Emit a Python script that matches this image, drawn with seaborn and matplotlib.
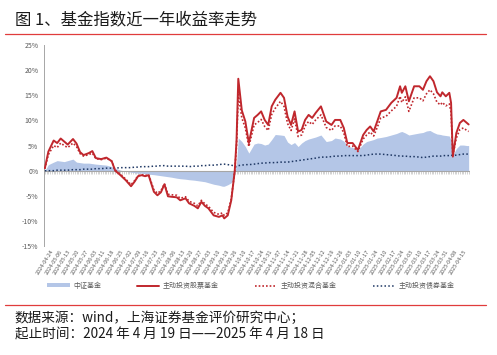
import numpy as np
import pandas as pd
import seaborn as sns
import matplotlib.pyplot as plt
from matplotlib.lines import Line2D
from matplotlib.patches import Patch

# trading-day index (0 = 2024-04-19, 241 = 2025-04-18)
days = [0, 2, 5, 7, 9, 11, 13, 16, 18, 20, 22, 25, 27, 29, 32, 35, 38, 40, 43, 46,
        49, 51, 53, 55, 57, 59, 62, 64, 66, 68, 70, 72, 75, 77, 80, 82, 85, 87, 89, 91,
        93, 96, 99, 101, 102, 104, 106, 108, 109, 110, 112, 114, 116, 119, 121, 123, 125, 127, 129, 131,
        134, 136, 138, 140, 142, 144, 146, 148, 150, 152, 154, 157, 160, 163, 165, 168, 170, 172, 175, 178,
        181, 183, 185, 187, 189, 191, 194, 197, 200, 202, 203, 205, 207, 210, 213, 215, 217, 219, 221, 223,
        225, 226, 228, 230, 231, 232, 234, 236, 238, 240, 241]

index_fund = [0.0, 1.2, 1.7, 2.0, 1.9, 1.8, 2.0, 2.3, 1.7, 1.6, 1.5, 1.5, 1.4, 1.3, 1.2, 1.1, 0.8, 0.5, 0.1, -0.1,
              -0.3, -0.4, -0.5, -0.5, -0.6, -0.7, -0.8, -0.9, -1.0, -1.1, -1.2, -1.3, -1.5, -1.6, -1.7, -1.8, -1.9, -2.0, -2.1, -2.2,
              -2.4, -2.7, -2.9, -3.1, -3.1, -2.8, -2.4, -0.5, 1.5, 6.5, 5.8, 4.8, 3.5, 5.3, 5.5, 5.4, 5.1, 5.3, 6.2, 7.2,
              7.1, 7.0, 5.7, 5.2, 5.6, 4.8, 5.5, 6.0, 6.3, 6.5, 6.7, 7.1, 5.8, 6.0, 6.5, 6.3, 5.9, 4.9, 4.6, 4.1,
              5.3, 5.8, 6.0, 6.2, 6.5, 6.6, 6.8, 7.1, 7.4, 7.7, 7.8, 7.5, 7.1, 7.3, 7.5, 7.6, 7.9, 8.0, 7.6, 7.3,
              7.2, 7.1, 7.0, 6.9, 6.0, 3.1, 4.4, 5.1, 5.1, 5.0, 5.0]

stock_fund = [0.5, 3.8, 6.0, 5.5, 6.4, 5.8, 5.2, 6.3, 5.4, 3.7, 3.1, 3.5, 3.9, 2.5, 2.3, 2.6, 1.9, 0.0, -0.9, -1.9,
              -3.1, -2.2, -1.1, -0.9, -1.1, -0.9, -4.2, -4.9, -4.3, -2.7, -5.1, -5.2, -5.3, -5.9, -5.5, -6.5, -7.0, -7.5, -6.2, -7.0,
              -7.5, -8.9, -9.2, -8.9, -9.5, -8.9, -5.9, 0.0, 6.0, 18.3, 12.0, 9.8, 5.5, 10.5, 11.1, 11.8, 10.1, 9.1, 12.8, 14.1,
              15.5, 14.5, 10.8, 9.1, 11.8, 7.8, 8.1, 10.1, 11.1, 10.5, 11.5, 12.8, 9.8, 9.1, 10.1, 10.1, 8.5, 5.5, 5.5, 4.1,
              7.1, 8.1, 8.8, 7.8, 9.8, 11.8, 12.1, 13.5, 14.5, 16.8, 15.5, 16.8, 13.8, 16.8, 16.8, 16.1, 17.8, 18.8, 17.8, 15.6,
              14.8, 15.6, 14.8, 15.5, 13.5, 2.8, 7.5, 9.5, 10.1, 9.5, 9.2]

mixed_fund = [0.4, 3.2, 5.0, 4.6, 5.5, 5.0, 4.6, 5.5, 4.8, 3.4, 2.9, 3.2, 3.5, 2.4, 2.2, 2.5, 1.9, 0.1, -0.7, -1.7,
              -2.8, -2.0, -1.0, -0.8, -1.0, -0.8, -3.8, -4.5, -4.0, -2.6, -4.7, -4.8, -4.9, -5.5, -5.2, -6.1, -6.5, -7.0, -5.9, -6.6,
              -7.1, -8.3, -8.7, -8.4, -8.9, -8.4, -5.6, 0.0, 5.0, 15.2, 10.5, 8.5, 4.8, 9.1, 9.6, 10.2, 8.8, 8.0, 11.2, 12.4,
              13.8, 12.8, 9.4, 8.0, 10.3, 6.8, 7.1, 8.9, 9.8, 9.2, 10.1, 11.1, 8.6, 8.0, 8.9, 8.9, 7.5, 4.8, 4.9, 3.8,
              6.3, 7.1, 7.7, 6.9, 8.6, 10.5, 10.8, 11.9, 12.8, 14.8, 13.6, 14.7, 11.8, 14.5, 14.5, 13.9, 15.3, 16.1, 15.3, 13.6,
              13.1, 13.6, 12.9, 13.3, 11.6, 3.1, 6.5, 8.2, 8.5, 8.0, 7.8]

bond_fund = [0.0, 0.0, 0.0, 0.1, 0.1, 0.1, 0.1, 0.2, 0.2, 0.2, 0.3, 0.3, 0.3, 0.4, 0.4, 0.5, 0.5, 0.5, 0.6, 0.6,
             0.6, 0.7, 0.7, 0.8, 0.8, 0.8, 0.9, 0.9, 1.0, 1.0, 0.9, 0.9, 0.9, 0.9, 0.9, 0.8, 0.9, 0.9, 1.0, 1.0,
             1.1, 1.1, 1.2, 1.3, 1.3, 1.2, 1.1, 0.9, 0.8, 1.0, 1.1, 1.2, 1.2, 1.3, 1.4, 1.5, 1.5, 1.6, 1.6, 1.6,
             1.7, 1.7, 1.7, 1.8, 1.9, 2.0, 2.1, 2.2, 2.3, 2.4, 2.5, 2.7, 2.7, 2.8, 2.9, 2.9, 3.0, 3.0, 3.0, 3.0,
             3.0, 3.1, 3.2, 3.3, 3.3, 3.3, 3.2, 3.1, 3.0, 2.9, 2.9, 2.9, 2.8, 2.8, 2.7, 2.6, 2.7, 2.8, 2.9, 2.9,
             2.9, 3.0, 3.0, 3.0, 3.1, 3.0, 3.1, 3.2, 3.3, 3.3, 3.3]

tick_labels = ['2024-04-24', '2024-05-06', '2024-05-13', '2024-05-20', '2024-05-27', '2024-06-03',
               '2024-06-11', '2024-06-18', '2024-06-25', '2024-07-02', '2024-07-09', '2024-07-16',
               '2024-07-23', '2024-07-30', '2024-08-06', '2024-08-13', '2024-08-20', '2024-08-27',
               '2024-09-03', '2024-09-10', '2024-09-19', '2024-09-26', '2024-10-10', '2024-10-17',
               '2024-10-24', '2024-10-31', '2024-11-07', '2024-11-14', '2024-11-21', '2024-11-28',
               '2024-12-05', '2024-12-12', '2024-12-19', '2024-12-26', '2025-01-03', '2025-01-10',
               '2025-01-17', '2025-01-24', '2025-02-10', '2025-02-17', '2025-02-24', '2025-03-03',
               '2025-03-10', '2025-03-17', '2025-03-24', '2025-03-31', '2025-04-08', '2025-04-15']

names = ['中证基金', '主动投资股票基金', '主动投资混合基金', '主动投资债券基金']

df = pd.DataFrame({'day': days, 'index': index_fund, 'stock': stock_fund,
                   'mixed': mixed_fund, 'bond': bond_fund})

sns.set_style('white')
plt.rcParams['font.family'] = ['Noto Sans CJK SC', 'DejaVu Sans']
plt.rcParams['axes.unicode_minus'] = False

fig = plt.figure(figsize=(4.97, 3.55), dpi=100)
ax = fig.add_axes([0.0885, 0.307, 0.858, 0.566])

area_c = '#b4c6e7'
red = '#c0272d'
navy = '#1f3864'

ax.fill_between(df['day'], 0, df['index'], color=area_c, lw=0, zorder=1)
sns.lineplot(data=df, x='day', y='stock', color=red, lw=1.4, ax=ax, zorder=4)
sns.lineplot(data=df, x='day', y='mixed', color=red, lw=1.2, ls=(0, (1, 1.2)), ax=ax, zorder=3)
sns.lineplot(data=df, x='day', y='bond', color=navy, lw=1.1, ls=(0, (1, 1.5)), ax=ax, zorder=3)

ax.set_xlim(-0.5, 242)
ax.set_ylim(-15, 25)
ax.set_xlabel('')
ax.set_ylabel('')

yt = np.arange(-15, 26, 5)
ax.set_yticks(yt)
ax.set_yticklabels([f'{v}%' for v in yt])
ax.tick_params(axis='y', labelsize=5, labelcolor='#595959', color='#a6a6a6',
               length=2, width=0.6, direction='out', pad=2)

tick_pos = [3 + 5 * i for i in range(len(tick_labels))]
ax.set_xticks(tick_pos)
ax.set_xticklabels(tick_labels, rotation=58, ha='right', rotation_mode='anchor', fontsize=4, color='#595959')
ax.tick_params(axis='x', length=0, pad=2)

for s in ['top', 'right', 'bottom']:
    ax.spines[s].set_visible(False)
ax.spines['left'].set_color('#a6a6a6')
ax.spines['left'].set_linewidth(0.7)

# zero line with daily tick marks
ax.axhline(0, color='#a6a6a6', lw=0.8, zorder=2)
sec = ax.secondary_xaxis(15 / 40)
sec.set_xticks(np.arange(0, 242, 1))
sec.tick_params(axis='x', direction='out', length=2, width=0.4, colors='#b0b0b0', labelbottom=False, labeltop=False)
sec.spines['bottom'].set_visible(False)
sec.spines['top'].set_visible(False)

handles = [Patch(facecolor=area_c, edgecolor='none'),
           Line2D([], [], color=red, lw=1.4),
           Line2D([], [], color=red, lw=1.2, ls=(0, (1, 1.2))),
           Line2D([], [], color=navy, lw=1.1, ls=(0, (1, 1.5)))]
fig.legend(handles, names, loc='center', bbox_to_anchor=(0.505, 0.195), ncol=4, frameon=False,
           fontsize=5, handlelength=3.2, handleheight=0.5, columnspacing=5.2, handletextpad=0.5,
           labelcolor='#595959')

fig.text(0.03, 0.944, '图 1、基金指数近一年收益率走势', fontsize=11.8, color='#1a1a1a', va='center')
fig.add_artist(Line2D([0.01, 0.978], [0.904, 0.904], color='#e03c3c', lw=0.9))
fig.add_artist(Line2D([0.01, 0.978], [0.141, 0.141], color='#e03c3c', lw=0.9))
fig.text(0.03, 0.104, '数据来源：wind，上海证券基金评价研究中心；', fontsize=9.8, style='italic',
         color='#1a1a1a', va='center')
fig.text(0.03, 0.059, '起止时间：2024 年 4 月 19 日——2025 年 4 月 18 日', fontsize=9.8, style='italic',
         color='#1a1a1a', va='center')

fig.savefig('out.png', dpi=100)
